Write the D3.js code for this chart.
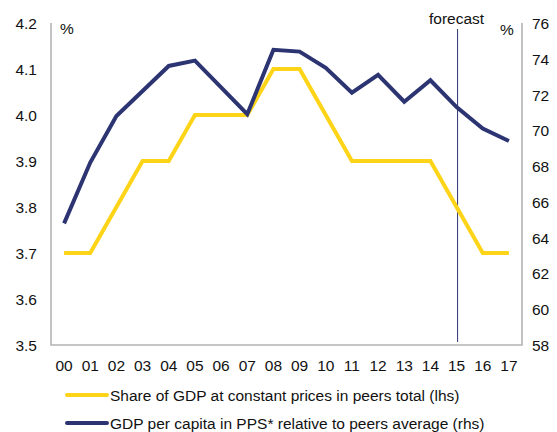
<!DOCTYPE html>
<html>
<head>
<meta charset="utf-8">
<script src="https://cdn.jsdelivr.net/npm/d3@7"></script>
<style>
  body { margin: 0; background: #fff; }
  text { font-family: "Liberation Sans", Arial, sans-serif; fill: #111; }
</style>
</head>
<body>
<div id="chart"></div>
<script>
var years = ["00","01","02","03","04","05","06","07","08","09","10","11","12","13","14","15","16","17"];
var shareGdp = [3.7,3.7,3.8,3.9,3.9,4.0,4.0,4.0,4.1,4.1,4.0,3.9,3.9,3.9,3.9,3.8,3.7,3.7];
var gdpPerCapita = [64.8,68.2,70.8,72.2,73.6,73.9,72.4,70.9,74.5,74.4,73.5,72.1,73.1,71.6,72.8,71.3,70.1,69.4];
var leftTicks = [3.5,3.6,3.7,3.8,3.9,4.0,4.1,4.2];
var rightTicks = [58,60,62,64,66,68,70,72,74,76];
var forecastYear = "15";
var legendLabels = [
  "Share of GDP at constant prices in peers total (lhs)",
  "GDP per capita in PPS* relative to peers average (rhs)"
];

var yellow = "#FDD418";
var navy = "#2D3472";
var fs = 15.5;

var svg = d3.select("#chart").append("svg")
  .attr("width", 557)
  .attr("height", 432);

var pLeft = 51, pRight = 522, pTop = 23, pBottom = 345;

var x = d3.scaleBand().domain(years).range([pLeft, pRight]).padding(0);
var yL = d3.scaleLinear().domain([3.5, 4.2]).range([pBottom, pTop]);
var yR = d3.scaleLinear().domain([58, 76]).range([pBottom, pTop]);
var cx = d => x(d) + x.bandwidth() / 2;

// frame (left, bottom, right)
svg.append("path")
  .attr("d", "M" + pLeft + "," + pTop + "V" + pBottom + "H" + pRight + "V" + pTop)
  .attr("fill", "none")
  .attr("stroke", "#b3b3b3")
  .attr("stroke-width", 1.6);

// tick labels
svg.selectAll(".tl").data(leftTicks).enter().append("text")
  .attr("x", 37).attr("y", d => yL(d) + 6)
  .attr("text-anchor", "end").attr("font-size", fs)
  .text(d => d.toFixed(1));

svg.selectAll(".tr").data(rightTicks).enter().append("text")
  .attr("x", 532).attr("y", d => yR(d) + 6)
  .attr("font-size", fs)
  .text(d => d);

svg.selectAll(".tx").data(years).enter().append("text")
  .attr("x", d => cx(d)).attr("y", 371)
  .attr("text-anchor", "middle").attr("font-size", fs)
  .text(d => d);

svg.append("text").attr("x", 60).attr("y", 34).attr("font-size", fs).text("%");
svg.append("text").attr("x", 500).attr("y", 35).attr("font-size", fs).text("%");

// forecast marker
var fx = cx(forecastYear) + 1;
svg.append("line")
  .attr("x1", fx).attr("x2", fx).attr("y1", 29).attr("y2", 342)
  .attr("stroke", navy).attr("stroke-width", 1);
svg.append("text").attr("x", fx - 1).attr("y", 24)
  .attr("text-anchor", "middle").attr("font-size", fs).text("forecast");

// lines
svg.append("path")
  .datum(shareGdp)
  .attr("fill", "none").attr("stroke", yellow).attr("stroke-width", 4)
  .attr("d", d3.line().x((d, i) => cx(years[i])).y(d => yL(d)));

svg.append("path")
  .datum(gdpPerCapita)
  .attr("fill", "none").attr("stroke", navy).attr("stroke-width", 4)
  .attr("d", d3.line().x((d, i) => cx(years[i])).y(d => yR(d)));

// legend
var legColors = [yellow, navy];
var leg = svg.selectAll(".leg").data(legendLabels).enter().append("g")
  .attr("transform", (d, i) => "translate(0," + (395 + i * 28) + ")");
leg.append("line")
  .attr("x1", 67).attr("x2", 107).attr("y1", 0).attr("y2", 0)
  .attr("stroke", (d, i) => legColors[i]).attr("stroke-width", 4)
  .attr("stroke-linecap", "round");
leg.append("text")
  .attr("x", 110).attr("y", 6).attr("font-size", fs)
  .text(d => d);
</script>
</body>
</html>
